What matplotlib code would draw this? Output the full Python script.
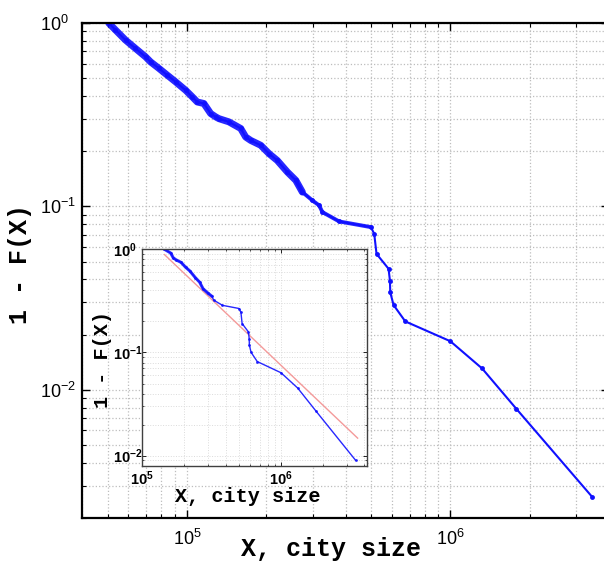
import numpy as np
import matplotlib
matplotlib.use("Agg")
import matplotlib.pyplot as plt

plt.rcParams['font.family'] = ['Liberation Sans', 'DejaVu Sans']

# city sizes and 1 - F(X)
city_size = [50500, 53600, 58500, 63800, 69700, 72800, 78300, 84200, 90600, 98900,
             104800, 109500, 116000, 123100, 128500, 132300, 144400, 160100, 167200, 174700,
             190600, 205000, 220400, 240700, 259100, 274400, 299500, 317600, 326900, 378400,
             499300, 514100, 524600, 582700, 589800, 591400, 608700, 674500, 1000000, 1320000,
             1777000, 3458000]
ccdf = [1.0, 0.916, 0.807, 0.727, 0.654, 0.614, 0.566, 0.520, 0.478, 0.430,
        0.396, 0.371, 0.364, 0.321, 0.308, 0.301, 0.289, 0.266, 0.239, 0.229,
        0.2155, 0.194, 0.178, 0.154, 0.1387, 0.1197, 0.1078, 0.1013, 0.0931, 0.0828,
        0.0771, 0.0709, 0.0551, 0.0457, 0.0394, 0.0340, 0.0290, 0.0236, 0.0184, 0.01307,
        0.0079, 0.0026]

# power-law fit, tail only (inset)
x_min = 144400
fit_x = [144400, 3570000]
fit_y = [0.889, 0.0148]

x = np.array(city_size, dtype=float)
y = np.array(ccdf)
tail = x >= x_min
xt = x[tail]
yt = y[tail] / y[tail][0]

blue = '#1010ff'
mono = 'Liberation Mono'

fig = plt.figure(figsize=(6.04, 5.63), dpi=100)
ax = fig.add_axes([82 / 604, 45 / 563, 527 / 604, 495 / 563])

# dense part of the curve: overlapping markers make a thick band
ax.plot(x[:26], y[:26], color=blue, lw=5, solid_capstyle='round',
        solid_joinstyle='round', alpha=0.9)
ax.plot(x[24:31], y[24:31], color=blue, lw=2.8, solid_capstyle='round',
        solid_joinstyle='round', alpha=0.9)
ax.plot(x, y, color=blue, lw=1.5, marker='o', ms=3.5, mew=0)

ax.set_xscale('log')
ax.set_yscale('log')
ax.set_xlim(4e4, 4e6)
ax.set_ylim(0.002, 1)
ax.grid(True, which='both', ls=':', color='0.74', lw=0.9)
ax.tick_params(which='both', direction='in', top=True, right=True)
ax.tick_params(which='major', length=6, width=1, labelsize=13)
ax.tick_params(which='minor', length=3, width=0.8)
ax.tick_params(axis='y', pad=30)
ax.tick_params(axis='x', pad=8)
for lab in ax.get_yticklabels():
    lab.set_horizontalalignment('left')
for s in ax.spines.values():
    s.set_linewidth(1.6)

fig.text(331 / 604, 1 - 549 / 563, 'X, city size', family=mono,
         weight='bold', fontsize=18, ha='center', va='center')
fig.text(20 / 604, 1 - 264 / 563, '1 - F(X)', family=mono,
         weight='bold', fontsize=18, ha='center', va='center', rotation=90)

# inset: tail above x_min with the fitted line
ins = fig.add_axes([142.3 / 604, 97.3 / 563, 224.4 / 604, 216.4 / 563])
ins.plot(fit_x, fit_y, color='#f49a9a', lw=1.0)
ins.plot(xt[:12], yt[:12], color=blue, lw=2.2, solid_capstyle='round',
         solid_joinstyle='round', alpha=0.85)
ins.plot(xt, yt, color=blue, lw=1.0, marker='o', ms=2, mew=0, alpha=0.9)
ins.set_xscale('log')
ins.set_yscale('log')
ins.set_xlim(1e5, 4.15e6)
ins.set_ylim(0.008, 1)
ins.grid(True, which='both', ls=':', color='0.86', lw=0.7)
ins.tick_params(which='both', direction='in', top=True, right=True)
ins.tick_params(which='major', length=3, width=0.6, labelsize=10.5)
ins.tick_params(which='minor', length=1.5, width=0.5)
ins.tick_params(axis='y', pad=21)
ins.tick_params(axis='x', pad=2.5)
for lab in ins.get_yticklabels():
    lab.set_horizontalalignment('left')
for lab in ins.get_xticklabels() + ins.get_yticklabels():
    lab.set_fontweight('bold')
for s in ins.spines.values():
    s.set_linewidth(1.0)
    s.set_color('0.25')

fig.text(248 / 604, 1 - 497 / 563, 'X, city size', family=mono,
         weight='bold', fontsize=14.5, ha='center', va='center')
fig.text(102 / 604, 1 - 359 / 563, '1 - F(X)', family=mono,
         weight='bold', fontsize=14.5, ha='center', va='center', rotation=90)

fig.savefig('out.png', dpi=100)
